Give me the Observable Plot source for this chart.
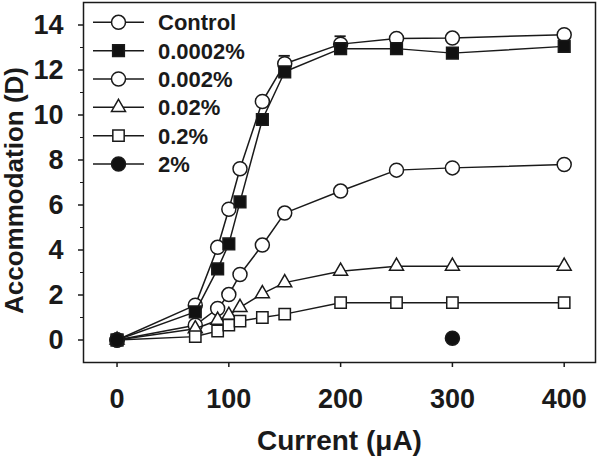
<!DOCTYPE html>
<html>
<head>
<meta charset="utf-8">
<script src="https://cdn.jsdelivr.net/npm/d3@7"></script>
<script src="https://cdn.jsdelivr.net/npm/@observablehq/plot@0.6"></script>
<style>
  html, body { margin: 0; padding: 0; background: #fff; }
  #wrap { position: relative; width: 600px; height: 456px; font-family: "Liberation Sans", Arial, sans-serif; }
  #legend { position: absolute; left: 0; top: 0; pointer-events: none; }
</style>
</head>
<body>
<div id="wrap"></div>
<script>
// ---- data ----
const currents = [0, 70, 90, 100, 110, 130, 150, 200, 250, 300, 400];
const seriesNames = ["Control", "0.0002%", "0.002%", "0.02%", "0.2%", "2%"];
const control  = [0, 1.55, 4.12, 5.81, 7.61, 10.6, 12.28, 13.15, 13.4, 13.42, 13.57];
const p0002    = [0, 1.25, 3.16, 4.27, 6.14, 9.8, 11.92, 12.95, 12.95, 12.75, 13.05];
const p002     = [0, 0.66, 1.4, 2.02, 2.91, 4.22, 5.64, 6.62, 7.55, 7.65, 7.8];
const p02      = [0, 0.5, 0.88, 1.1, 1.45, 2.06, 2.55, 3.06, 3.28, 3.28, 3.28];
const p02pct   = [0, 0.15, 0.4, 0.66, 0.84, 1.0, 1.15, 1.66, 1.66, 1.66, 1.66];
const p2pct    = [0, null, null, null, null, null, null, null, null, 0.08, null];
const controlErrX = [150, 200];
const controlErrTop = [12.63, 13.5];
const xTicks = [0, 100, 200, 300, 400];
const yTicks = [0, 2, 4, 6, 8, 10, 12, 14];
const yMinorTicks = [1, 3, 5, 7, 9, 11, 13];

const seriesValues = [control, p0002, p002, p02, p02pct, p2pct];
const seriesSymbols = ["circle", "square", "circle", "triangle", "square", "circle"];
const seriesFills = ["white", "#111", "white", "white", "white", "#111"];
const seriesR = [7, 6.6, 7, 5.2, 6.4, 7];
const seriesLines = [true, true, true, true, true, false];

const ink = "#1a1a1a";
const FONT = "'Liberation Sans', Arial, sans-serif";

const marks = [];
seriesNames.forEach((name, i) => {
  const pts = currents.map((c, j) => ({x: c, y: seriesValues[i][j]})).filter(d => d.y != null);
  if (seriesLines[i]) marks.push(Plot.line(pts, {x: "x", y: "y", stroke: ink, strokeWidth: 1.5}));
  if (i === 0) {
    const err = controlErrX.map((x, k) => ({x, y1: control[currents.indexOf(x)], y2: controlErrTop[k]}));
    marks.push(Plot.ruleX(err, {x: "x", y1: "y1", y2: "y2", stroke: ink, strokeWidth: 1.5}));
    marks.push(Plot.ruleY(err, {y: "y2", x1: d => d.x - 5, x2: d => d.x + 5, stroke: ink, strokeWidth: 1.8}));
  }
  marks.push(Plot.dot(pts, {x: "x", y: "y", symbol: () => seriesSymbols[i], r: seriesR[i],
    fill: seriesFills[i], stroke: ink, strokeWidth: 1.5}));
});

const chart = Plot.plot({
  width: 600,
  height: 456,
  marginLeft: 83,
  marginRight: 5,
  marginTop: 2,
  marginBottom: 94,
  style: {background: "white", color: ink, fontFamily: FONT},
  x: {domain: [-30, 428]},
  y: {domain: [-1, 15]},
  symbol: {type: "identity"},
  marks: [
    Plot.frame({stroke: ink, strokeWidth: 1.5}),
    Plot.axisX({ticks: xTicks, tickSize: 5, tickPadding: 21, fontSize: 27, fontWeight: "bold", label: null, stroke: ink, strokeWidth: 1.5}),
    Plot.axisY({ticks: yTicks, tickSize: 5, tickPadding: 15, fontSize: 27, fontWeight: "bold", label: null, stroke: ink, strokeWidth: 1.5}),
    Plot.axisY({ticks: yMinorTicks, tickSize: 3, text: null, label: null, stroke: ink, strokeWidth: 1}),
    Plot.text(["Current (μA)"], {frameAnchor: "bottom", lineAnchor: "bottom", textAnchor: "middle", dy: 87, fontSize: 28, fontWeight: "bold", fill: ink}),
    Plot.text(["Accommodation (D)"], {frameAnchor: "left", textAnchor: "middle", lineAnchor: "middle", dx: -69, dy: 8, rotate: -90, fontSize: 26, fontWeight: "bold", fill: ink}),
    ...marks
  ]
});

const wrap = document.getElementById("wrap");
wrap.appendChild(chart);

// ---- legend overlay ----
const lg = d3.select(wrap).append("svg").attr("id", "legend").attr("width", 600).attr("height", 200);
const rowY0 = 22.3, rowStep = 28.35;
seriesNames.forEach((name, i) => {
  const y = rowY0 + i * rowStep;
  const g = lg.append("g").attr("transform", `translate(0,${y})`);
  g.append("line").attr("x1", 93).attr("x2", 144).attr("y1", 0).attr("y2", 0).attr("stroke", ink).attr("stroke-width", 1.5);
  const symType = {circle: d3.symbolCircle, square: d3.symbolSquare, triangle: d3.symbolTriangle}[seriesSymbols[i]];
  const r = seriesR[i];
  g.append("path").attr("transform", "translate(118.5,0)")
    .attr("d", d3.symbol(symType, Math.PI * r * r)())
    .attr("fill", seriesFills[i]).attr("stroke", ink).attr("stroke-width", 1.5);
  g.append("text").attr("x", 158).attr("y", 0).attr("dy", "0.36em")
    .attr("font-family", FONT).attr("font-weight", "bold").attr("font-size", 22)
    .attr("fill", ink).text(name);
});
</script>
</body>
</html>
